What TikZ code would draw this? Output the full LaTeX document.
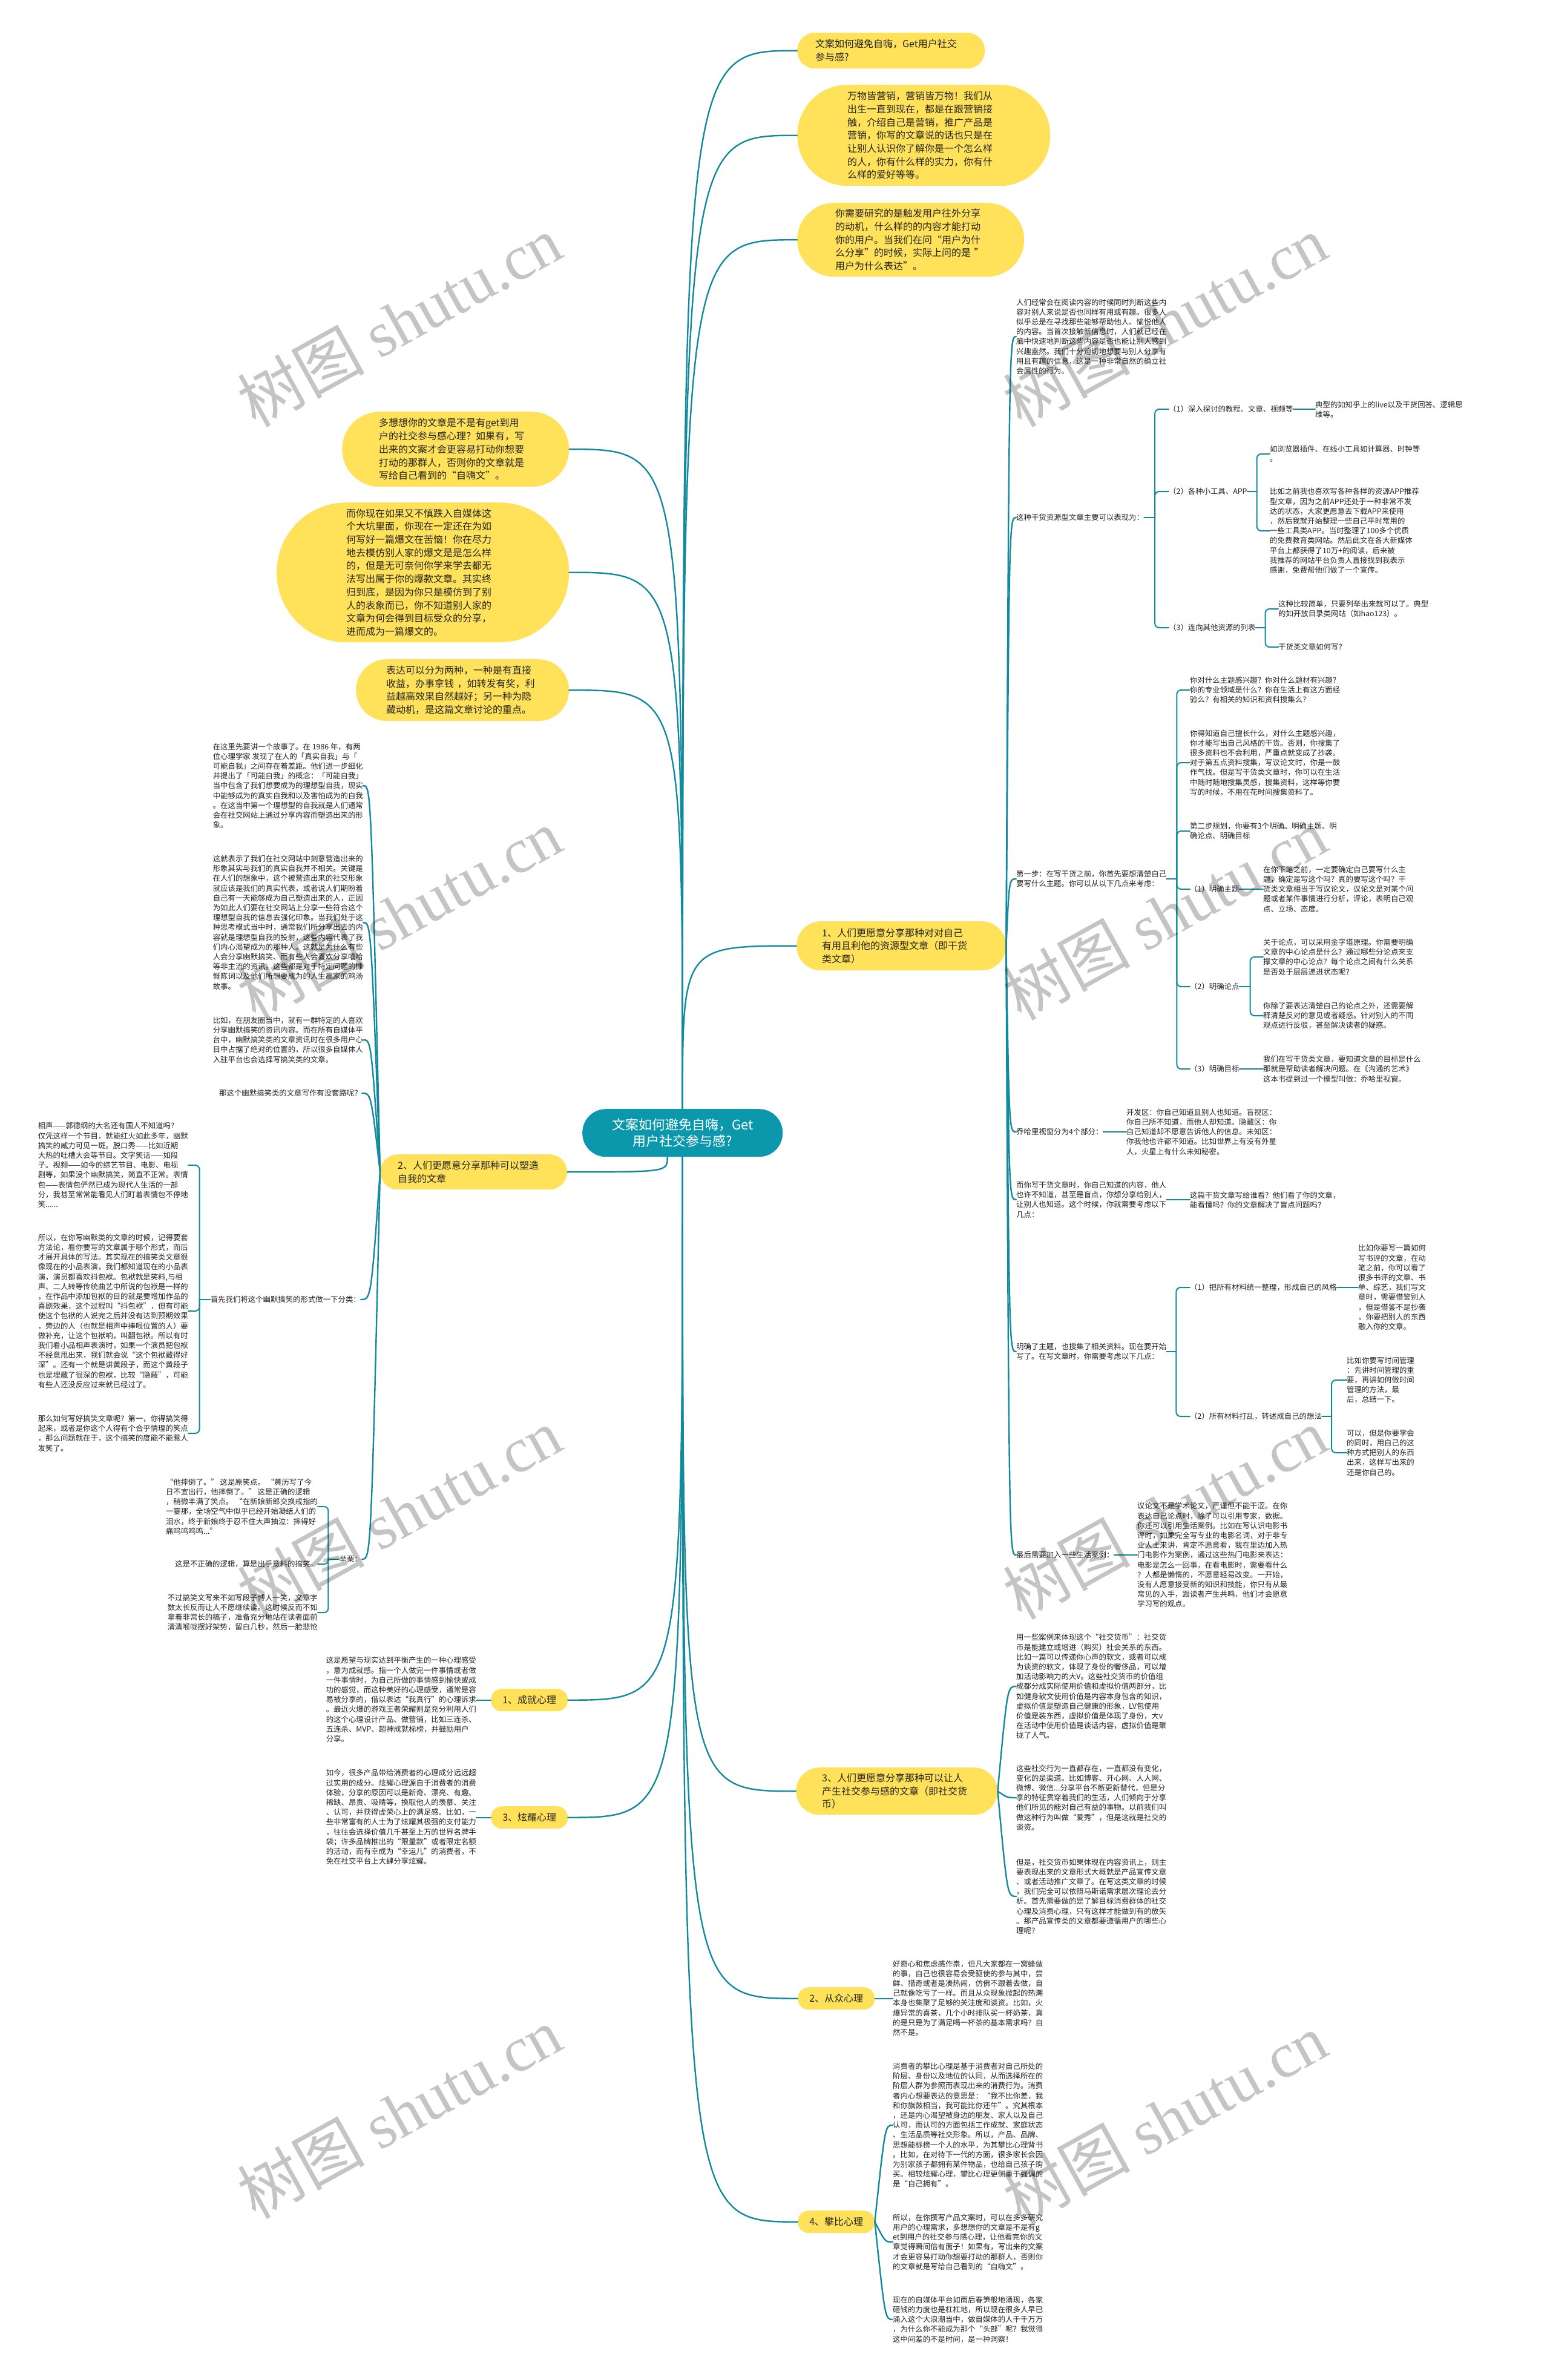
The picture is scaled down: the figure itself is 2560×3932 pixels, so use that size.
\documentclass[tikz,border=0pt]{standalone}
\usepackage{fontspec}
\setmainfont{Noto Sans CJK SC}
\newfontfamily\wmserif{Liberation Serif}
\usetikzlibrary{calc}
\definecolor{byel}{RGB}{255,226,89}
\definecolor{tealc}{RGB}{12,152,172}
\definecolor{lnc}{RGB}{18,138,158}
\definecolor{txt}{RGB}{34,34,34}
\newcommand\mmtxt{\fontsize{12.4}{16.2}\selectfont}
\newcommand\mmbub{\fontsize{16}{21.7}\selectfont}
\newcommand\mmcen{\fontsize{22}{27}\selectfont}
\newcommand\mmwm{\fontsize{105}{105}\selectfont}
\begin{document}
\begin{tikzpicture}[x=1pt,y=-1pt,
  tx/.style={inner sep=0pt, align=left, font=\mmtxt, text=txt},
  bub/.style={fill=byel, align=left, font=\mmbub, text=txt, inner ysep=0pt, anchor=north west},
  sbub/.style={fill=byel, align=center, font=\mmbub, text=txt, inner sep=0pt, anchor=north west, minimum width=127pt, minimum height=37pt, rounded corners=18pt},
  conn/.style={draw=lnc, line width=2.4pt, line cap=round},
  br/.style={draw=lnc, line width=2pt, line cap=round, rounded corners=7pt}]
\useasboundingbox (0,0) rectangle (2560,3932);
\fill[white] (0,0) rectangle (2560,3932);

% ---------- central ----------
\node[anchor=north west, fill=tealc, text=white, font=\mmcen, align=center, minimum width=331pt, minimum height=79pt, rounded corners=39pt, inner sep=0pt] (C) at (962,1832) {文案如何避免自嗨，Get\\用户社交参与感?};

% ---------- top right bubbles ----------
\node[bub, minimum height=59pt, inner xsep=30pt, text width=250pt, rounded corners=29pt] (A) at (1317,54) {文案如何避免自嗨，Get用户社交\\参与感?};
\node[bub, minimum height=167pt, inner xsep=83pt, text width=252pt, rounded corners=83pt] (B) at (1317,140) {万物皆营销，营销皆万物！我们从\\出生一直到现在，都是在跟营销接\\触，介绍自己是营销，推广产品是\\营销，你写的文章说的话也只是在\\让别人认识你了解你是一个怎么样\\的人，你有什么样的实力，你有什\\么样的爱好等等。};
\node[bub, minimum height=122pt, inner xsep=63pt, text width=249pt, rounded corners=61pt] (Cb) at (1317,335) {你需要研究的是触发用户往外分享\\的动机，什么样的的内容才能打动\\你的用户。当我们在问“用户为什\\么分享”的时候，实际上问的是 ”\\用户为什么表达”。};

% ---------- left bubbles ----------
\node[bub, minimum height=124pt, inner xsep=61pt, text width=253pt, rounded corners=62pt] (L1) at (565,680) {多想想你的文章是不是有get到用\\户的社交参与感心理？如果有，写\\出来的文案才会更容易打动你想要\\打动的那群人，否则你的文章就是\\写给自己看到的“自嗨文”。};
\node[bub, minimum height=231pt, inner xsep=115pt, text width=253pt, rounded corners=115pt] (L2) at (457,830) {而你现在如果又不慎跌入自媒体这\\个大坑里面，你现在一定还在为如\\何写好一篇爆文在苦恼！你在尽力\\地去模仿别人家的爆文是是怎么样\\的，但是无可奈何你学来学去都无\\法写出属于你的爆款文章。其实终\\归到底，是因为你只是模仿到了别\\人的表象而已，你不知道别人家的\\文章为何会得到目标受众的分享，\\进而成为一篇爆文的。};
\node[bub, minimum height=102pt, inner xsep=50pt, text width=252pt, rounded corners=51pt] (L3) at (588,1089) {表达可以分为两种，一种是有直接\\收益，办事拿钱 ，如转发有奖，利\\益越高效果自然越好；另一种为隐\\藏动机，是这篇文章讨论的重点。};

% ---------- main branches ----------
\node[bub, minimum height=81pt, inner xsep=42pt, text width=262pt, rounded corners=40pt] (N1) at (1316,1522) {1、人们更愿意分享那种对对自己\\有用且利他的资源型文章（即干货\\类文章）};
\node[bub, minimum height=58pt, inner xsep=29pt, text width=251pt, rounded corners=29pt] (N2) at (628,1907) {2、人们更愿意分享那种可以塑造\\自我的文章};
\node[bub, minimum height=78pt, inner xsep=43pt, text width=247pt, rounded corners=39pt] (N3) at (1315,2920) {3、人们更愿意分享那种可以让人\\产生社交参与感的文章（即社交货\\币）};
\node[sbub] (K1) at (811,2790) {1、成就心理};
\node[sbub] (K3) at (811,2984) {3、炫耀心理};
\node[sbub] (K2) at (1318,3283) {2、从众心理};
\node[sbub] (K4) at (1318,3652) {4、攀比心理};

% ---------- central connectors ----------
\coordinate (Cs2) at ([xshift=-25pt]C.south);
\foreach \t in {A,B,Cb,N1} \draw[conn] (C.north) .. controls (C.north |- \t.west) .. (\t.west);
\foreach \t in {L1,L2,L3} \draw[conn] (C.north) .. controls (C.north |- \t.east) .. (\t.east);
\foreach \t in {N3,K2,K4} \draw[conn] (C.south) .. controls (C.south |- \t.west) .. (\t.west);
\foreach \t in {K1,K3} \draw[conn] (C.south) .. controls (C.south |- \t.east) .. (\t.east);
\draw[conn] (Cs2) .. controls (Cs2 |- N2.east) .. (N2.east);

% ---------- branch 1 children ----------
\node[tx, anchor=west] (R1) at (1679,556) {人们经常会在阅读内容的时候同时判断这些内\\容对别人来说是否也同样有用或有趣。很多人\\似乎总是在寻找那些能够帮助他人、愉悦他人\\的内容。当首次接触新信息时，人们就已经在\\脑中快速地判断这些内容是否也能让别人感到\\兴趣盎然。我们十分迫切地想要与别人分享有\\用且有趣的信息，这是一种非常自然的确立社\\会属性的行为。};
\node[tx, anchor=west] (R2) at (1679,855) {这种干货资源型文章主要可以表现为：};
\node[tx, anchor=west] (R3) at (1679,1452) {第一步：在写干货之前，你首先要想清楚自己\\要写什么主题。你可以从以下几点来考虑：};
\node[tx, anchor=west] (R4) at (1679,1870) {乔哈里视窗分为4个部分：};
\node[tx, anchor=west] (R5) at (1679,1982) {而你写干货文章时，你自己知道的内容，他人\\也许不知道，甚至是盲点，你想分享给别人，\\让别人也知道。这个时候，你就需要考虑以下\\几点：};
\node[tx, anchor=west] (R6) at (1679,2233) {明确了主题，也搜集了相关资料。现在要开始\\写了。在写文章时，你需要考虑以下几点：};
\node[tx, anchor=west] (R7) at (1679,2569) {最后需要加入一些生活案例：};
\coordinate (N1s) at ([xshift=5pt]N1.east);
\foreach \t in {R1,R2,R3,R4,R5,R6,R7} \draw[conn] (N1.east) .. controls (N1s |- \t.west) .. (\t.west);

% R2 children
\node[tx, anchor=west] (R21) at (1931,676) {（1）深入探讨的教程、文章、视频等};
\node[tx, anchor=west] (R22) at (1931,812) {（2）各种小工具、APP};
\node[tx, anchor=west] (R23) at (1931,1037) {（3）连向其他资源的列表};
\draw[br] (R2.east) -- ++(18pt,0);
\foreach \t in {R21,R22,R23} \draw[br] ([xshift=18pt]R2.east) |- (\t.west);
\node[tx, anchor=west] (R211) at (2173,677) {典型的如知乎上的live以及干货回答、逻辑思\\维等。};
\draw[br] (R21.east) -- (R211.west |- R21.east);
\node[tx, anchor=west] (R221) at (2098,750) {如浏览器插件、在线小工具如计算器、时钟等\\。};
\node[tx, anchor=west] (R222) at (2098,877) {比如之前我也喜欢写各种各样的资源APP推荐\\型文章，因为之前APP还处于一种非常不发\\达的状态，大家更愿意去下载APP来使用\\，然后我就开始整理一些自己平时常用的\\一些工具类APP。当时整理了100多个优质\\的免费教育类网站。然后此文在各大新媒体\\平台上都获得了10万+的阅读，后来被\\我推荐的网站平台负责人直接找到我表示\\感谢，免费帮他们做了一个宣传。};
\draw[br] (R22.east) -- ++(16pt,0);
\foreach \t in {R221,R222} \draw[br] ([xshift=16pt]R22.east) |- (\t.west);
\node[tx, anchor=west] (R231) at (2112,1006) {这种比较简单，只要列举出来就可以了。典型\\的如开放目录类网站（如hao123）。};
\node[tx, anchor=west] (R232) at (2112,1069) {干货类文章如何写？};
\draw[br] (R23.east) -- ++(16pt,0);
\foreach \t in {R231,R232} \draw[br] ([xshift=16pt]R23.east) |- (\t.west);

% R3 children
\node[tx, anchor=west] (R31) at (1966,1140) {你对什么主题感兴趣？你对什么题材有兴趣？\\你的专业领域是什么？你在生活上有这方面经\\验么？有相关的知识和资料搜集么？};
\node[tx, anchor=west] (R32) at (1966,1260) {你得知道自己擅长什么，对什么主题感兴趣，\\你才能写出自己风格的干货。否则，你搜集了\\很多资料也不会利用，严重点就变成了抄袭。\\对于第五点资料搜集，写议论文时，你是一鼓\\作气找。但是写干货类文章时，你可以在生活\\中随时随地搜集灵感，搜集资料，这样等你要\\写的时候，不用在花时间搜集资料了。};
\node[tx, anchor=west] (R33) at (1966,1373) {第二步规划，你要有3个明确。明确主题、明\\确论点、明确目标};
\node[tx, anchor=west] (R34) at (1966,1469) {（1）明确主题};
\node[tx, anchor=west] (R35) at (1966,1630) {（2）明确论点};
\node[tx, anchor=west] (R36) at (1966,1766) {（3）明确目标};
\draw[br] (R3.east) -- ++(17pt,0);
\foreach \t in {R31,R32,R33,R34,R35,R36} \draw[br] ([xshift=17pt]R3.east) |- (\t.west);
\node[tx, anchor=west] (R341) at (2087,1469) {在你下笔之前，一定要确定自己要写什么主\\题，确定是写这个吗？真的要写这个吗？干\\货类文章相当于写议论文，议论文是对某个问\\题或者某件事情进行分析，评论，表明自己观\\点、立场、态度。};
\draw[br] (R34.east) -- (R341.west |- R34.east);
\node[tx, anchor=west] (R351) at (2087,1581) {关于论点，可以采用金字塔原理。你需要明确\\文章的中心论点是什么？通过哪些分论点来支\\撑文章的中心论点？每个论点之间有什么关系\\是否处于层层递进状态呢？};
\node[tx, anchor=west] (R352) at (2087,1678) {你除了要表达清楚自己的论点之外，还需要解\\释清楚反对的意见或者疑惑。针对别人的不同\\观点进行反驳，甚至解决读者的疑惑。};
\draw[br] (R35.east) -- ++(18pt,0);
\foreach \t in {R351,R352} \draw[br] ([xshift=18pt]R35.east) |- (\t.west);
\node[tx, anchor=west] (R361) at (2087,1766) {我们在写干货类文章，要知道文章的目标是什么\\那就是帮助读者解决问题。在《沟通的艺术》\\这本书提到过一个模型叫做：乔哈里视窗。};
\draw[br] (R36.east) -- (R361.west |- R36.east);

% R4, R5 children
\node[tx, anchor=west] (R41) at (1861,1870) {开发区：你自己知道且别人也知道。盲视区：\\你自己所不知道，而他人却知道。隐藏区：你\\自己知道却不愿意告诉他人的信息。未知区：\\你我他也许都不知道。比如世界上有没有外星\\人，火星上有什么未知秘密。};
\draw[br] (R4.east) -- (R41.west |- R4.east);
\node[tx, anchor=west] (R51) at (1966,1983) {这篇干货文章写给谁看？他们看了你的文章，\\能看懂吗？你的文章解决了盲点问题吗？};
\draw[br] (R5.east) -- (R51.west |- R5.east);

% R6 children
\node[tx, anchor=west] (R61) at (1966,2127) {（1）把所有材料统一整理，形成自己的风格};
\node[tx, anchor=west] (R62) at (1966,2340) {（2）所有材料打乱，转述成自己的想法};
\draw[br] (R6.east) -- ++(16pt,0);
\foreach \t in {R61,R62} \draw[br] ([xshift=16pt]R6.east) |- (\t.west);
\node[tx, anchor=west] (R611) at (2244,2127) {比如你要写一篇如何\\写书评的文章，在动\\笔之前，你可以看了\\很多书评的文章、书\\单、综艺，我们写文\\章时，需要借鉴别人\\，但是借鉴不是抄袭\\，你要把别人的东西\\融入你的文章。};
\draw[br] (R61.east) -- (R611.west |- R61.east);
\node[tx, anchor=west] (R621) at (2225,2280) {比如你要写时间管理\\：先讲时间管理的重\\要，再讲如何做时间\\管理的方法，最\\后，总结一下。};
\node[tx, anchor=west] (R622) at (2225,2400) {可以，但是你要学会\\的同时，用自己的这\\种方式把别人的东西\\出来，这样写出来的\\还是你自己的。};
\draw[br] (R62.east) -- ++(16pt,0);
\foreach \t in {R621,R622} \draw[br] ([xshift=16pt]R62.east) |- (\t.west);

% R7 child
\node[tx, anchor=west] (R71) at (1879,2569) {议论文不是学术论文，严谨但不能干涩。在你\\表达自己论点时，除了可以引用专家，数据。\\你还可以引用生活案例。比如在写认识电影书\\评时，如果完全写专业的电影名词，对于非专\\业人士来讲，肯定不愿意看，我在里边加入热\\门电影作为案例，通过这些热门电影来表达：\\电影是怎么一回事，在看电影时，需要看什么\\？人都是懒惰的，不愿意轻易改变。一开始，\\没有人愿意接受新的知识和技能，你只有从最\\常见的入手，跟读者产生共鸣，他们才会愿意\\学习写的观点。};
\draw[br] (R7.east) -- (R71.west |- R7.east);

% ---------- branch 3 children ----------
\node[tx, anchor=west] (S1) at (1679,2786) {用一些案例来体现这个“社交货币”：社交货\\币是能建立或增进（购买）社会关系的东西。\\比如一篇可以传递你心声的软文，或者可以成\\为谈资的软文，体现了身份的奢侈品，可以增\\加活动影响力的大V。这些社交货币的价值组\\成都分成实际使用价值和虚拟价值两部分，比\\如健身软文使用价值是内容本身包含的知识，\\虚拟价值是塑造自己健康的形象，LV包使用\\价值是装东西，虚拟价值是体现了身份，大v\\在活动中使用价值是谈话内容，虚拟价值是聚\\拢了人气。};
\node[tx, anchor=west] (S2) at (1679,2970) {这些社交行为一直都存在，一直都没有变化，\\变化的是渠道。比如博客、开心网、人人网、\\微博、微信...分享平台不断更新替代，但是分\\享的特征贯穿着我们的生活，人们倾向于分享\\他们所见的能对自己有益的事物。以前我们叫\\做这种行为叫做“爱秀”，但是这就是社交的\\谈资。};
\node[tx, anchor=west] (S3) at (1679,3133) {但是，社交货币如果体现在内容资讯上，则主\\要表现出来的文章形式大概就是产品宣传文章\\、或者活动推广文章了。在写这类文章的时候\\，我们完全可以依照马斯诺需求层次理论去分\\析。首先需要做的是了解目标消费群体的社交\\心理及消费心理，只有这样才能做到有的放矢\\。那产品宣传类的文章都要遵循用户的哪些心\\理呢？};
\coordinate (N3s) at ([xshift=16pt]N3.east);
\foreach \t in {S1,S2,S3} \draw[conn] (N3.east) .. controls (N3s |- \t.west) .. (\t.west);

% ---------- psychology children ----------
\node[tx, anchor=west] (K21) at (1475,3301) {好奇心和焦虑感作祟，但凡大家都在一窝蜂做\\的事，自己也很容易会受驱使的参与其中，尝\\鲜、猎奇或者是凑热闹，仿佛不跟着去做，自\\己就像吃亏了一样。而且从众现象掀起的热潮\\本身也集聚了足够的关注度和谈资。比如，火\\爆异常的喜茶，几个小时排队买一杯奶茶，真\\的是只是为了满足喝一杯茶的基本需求吗？自\\然不是。};
\draw[conn] (K2.east) -- (K21.west |- K2.east);
\node[tx, anchor=west] (K41) at (1475,3511) {消费者的攀比心理是基于消费者对自己所处的\\阶层、身份以及地位的认同，从而选择所在的\\阶层人群为参照而表现出来的消费行为。消费\\者内心想要表达的意思是：“我不比你差，我\\和你旗鼓相当，我可能比你还牛”。究其根本\\，还是内心渴望被身边的朋友、家人以及自己\\认可，而认可的方面包括工作成就、家庭状态\\、生活品质等社交形象。所以，产品、品牌、\\思想能标榜一个人的水平，为其攀比心理背书\\。比如，在对待下一代的方面，很多家长会因\\为别家孩子都拥有某件物品，也给自己孩子购\\买。相较炫耀心理，攀比心理更侧重于强调的\\是“自己拥有”。};
\node[tx, anchor=west] (K42) at (1475,3704) {所以，在你撰写产品文案时，可以在多多研究\\用户的心理需求，多想想你的文章是不是有g\\et到用户的社交参与感心理，让他看完你的文\\章觉得瞬间倍有面子！如果有，写出来的文案\\才会更容易打动你想要打动的那群人，否则你\\的文章就是写给自己看到的“自嗨文”。};
\node[tx, anchor=west] (K43) at (1475,3832) {现在的自媒体平台如雨后春笋般地涌现，各家\\砸钱的力度也是杠杠地，所以现在很多人早已\\涌入这个大浪潮当中，做自媒体的人千千万万\\，为什么你不能成为那个“头部”呢？我觉得\\这中间差的不是时间，是一种洞察！};
\coordinate (K4s) at ([xshift=17pt]K4.east);
\foreach \t in {K41,K42,K43} \draw[conn] (K4.east) .. controls (K4s |- \t.west) .. (\t.west);
\node[tx, anchor=east] (K11) at (787,2808) {这是愿望与现实达到平衡产生的一种心理感受\\，意为成就感。指一个人做完一件事情或者做\\一件事情时，为自己所做的事情感到愉快或成\\功的感觉，而这种美好的心理感受，通常是容\\易被分享的，借以表达“我真行”的心理诉求\\。最近火爆的游戏王者荣耀则是充分利用人们\\的这个心理设计产品、做营销，比如三连杀、\\五连杀、MVP、超神成就标榜，并鼓励用户\\分享。};
\draw[conn] (K1.west) -- (K11.east |- K1.west);
\node[tx, anchor=east] (K31) at (787,3002) {如今，很多产品带给消费者的心理成分远远超\\过实用的成分。炫耀心理源自于消费者的消费\\体验，分享的原因可以是新奇、漂亮、有趣、\\稀缺、昂贵、吸睛等，换取他人的羡慕、关注\\、认可，并获得虚荣心上的满足感。比如，一\\些非常富有的人士为了炫耀其极强的支付能力\\，往往会选择价值几千甚至上万的世界名牌手\\袋；许多品牌推出的“限量款”或者限定名额\\的活动，而有幸成为“幸运儿”的消费者，不\\免在社交平台上大肆分享炫耀。};
\draw[conn] (K3.west) -- (K31.east |- K3.west);

% ---------- branch 2 children ----------
\node[tx, anchor=east] (D1) at (600,1298) {在这里先要讲一个故事了。在 1986 年，有两\\位心理学家 发现了在人的「真实自我」与「\\可能自我」之间存在着差距。他们进一步细化\\并提出了「可能自我」的概念：「可能自我」\\当中包含了我们想要成为的理想型自我，现实\\中能够成为的真实自我和以及害怕成为的自我\\。在这当中第一个理想型的自我就是人们通常\\会在社交网站上通过分享内容而塑造出来的形\\象。};
\node[tx, anchor=east] (D2) at (600,1524) {这就表示了我们在社交网站中刻意营造出来的\\形象其实与我们的真实自我并不相关。关键是\\在人们的想象中，这个被营造出来的社交形象\\就应该是我们的真实代表，或者说人们期盼着\\自己有一天能够成为自己塑造出来的人，正因\\为如此人们要在社交网站上分享一些符合这个\\理想型自我的信息去强化印象。当我们处于这\\种思考模式当中时，通常我们所分享出去的内\\容就是理想型自我的投射，这些内容代表了我\\们内心渴望成为的那种人。这就是为什么有些\\人会分享幽默搞笑、而有些人会喜欢分享嘻哈\\等非主流的资讯。这些都是对于特定问题的慷\\慨陈词以及他们所想要成为的人生赢家的鸡汤\\故事。};
\node[tx, anchor=east] (D3) at (600,1718) {比如，在朋友圈当中，就有一群特定的人喜欢\\分享幽默搞笑的资讯内容。而在所有自媒体平\\台中，幽默搞笑类的文章资讯时在很多用户心\\目中占据了绝对的位置的，所以很多自媒体人\\入驻平台也会选择写搞笑类的文章。};
\node[tx, anchor=east] (D4) at (598,1806) {那这个幽默搞笑类的文章写作有没套路呢？};
\node[tx, anchor=east] (D5) at (596,2147) {首先我们将这个幽默搞笑的形式做一下分类：};
\node[tx, anchor=east] (D6) at (598,2576) {举栗：};
\coordinate (N2s) at ([xshift=-15pt]N2.west);
\foreach \t in {D1,D2,D3,D4,D5,D6} \draw[conn] (N2.west) .. controls (N2s |- \t.east) .. (\t.east);

\node[tx, anchor=east] (D51) at (311,1925) {相声——郭德纲的大名还有国人不知道吗？\\仅凭这样一个节目，就能红火如此多年，幽默\\搞笑的威力可见一斑。脱口秀——比如近期\\大热的吐槽大会等节目。文字笑话——如段\\子。视频——如今的综艺节目、电影、电视\\剧等，如果没个幽默搞笑，简直不正常。表情\\包——表情包俨然已成为现代人生活的一部\\分，我甚至常常能看见人们盯着表情包不停地\\笑......};
\node[tx, anchor=east] (D52) at (311,2166) {所以，在你写幽默类的文章的时候，记得要套\\方法论，看你要写的文章属于哪个形式，而后\\才展开具体的写法。其实现在的搞笑类文章很\\像现在的小品表演，我们都知道现在的小品表\\演，演员都喜欢抖包袱。包袱就是笑料,与相\\声、二人转等传统曲艺中所说的包袱是一样的\\，在作品中添加包袱的目的就是要增加作品的\\喜剧效果，这个过程叫“抖包袱”，但有可能\\使这个包袱的人说完之后并没有达到预期效果\\，旁边的人（也就是相声中捧哏位置的人）要\\做补充，让这个包袱响，叫翻包袱。所以有时\\我们看小品相声表演时，如果一个演员把包袱\\不经意甩出来，我们就会说“这个包袱藏得好\\深”。还有一个就是讲黄段子，而这个黄段子\\也是埋藏了很深的包袱，比较“隐蔽”，可能\\有些人还没反应过来就已经过了。};
\node[tx, anchor=east] (D53) at (311,2368) {那么如何写好搞笑文章呢？第一，你得搞笑得\\起来，或者是你这个人得有个合乎情理的笑点\\，那么问题就在于，这个搞笑的度能不能惹人\\发笑了。};
\draw[br] (D5.west) -- ++(-18pt,0);
\foreach \t in {D51,D52,D53} \draw[br] ([xshift=-18pt]D5.west) |- (\t.east);

\node[tx, anchor=east] (D61) at (525,2489) {“他摔倒了。” 这是原笑点。 “黄历写了今\\日不宜出行，他摔倒了。” 这是正确的逻辑\\，稍微丰满了笑点。 “在新娘新郎交换戒指的\\一霎那，全场空气中似乎已经开始凝结人们的\\泪水，终于新娘终于忍不住大声抽泣：摔得好\\痛呜呜呜呜...”};
\node[tx, anchor=east] (D62) at (525,2584) {这是不正确的逻辑，算是出乎意料的搞笑。};
\node[tx, anchor=east] (D63) at (525,2664) {不过搞笑文写来不如写段子博人一笑，文章字\\数太长反而让人不愿继续读。这时候反而不如\\拿着非常长的稿子，准备充分地站在读者面前\\清清喉咙摆好架势，留白几秒，然后一脸悲怆};
\draw[br] (D6.west) -- ++(-18pt,0);
\foreach \t in {D61,D62,D63} \draw[br] ([xshift=-18pt]D6.west) |- (\t.east);

% ---------- watermarks ----------
\foreach \wx/\wy [count=\i] in {660/530, 1925/530, 660/1510, 1925/1510, 660/2500, 1925/2500, 660/3490, 1925/3500}
  \node[rotate=29, text=black, opacity=0.23, font=\mmwm, inner sep=0pt] (wm\i) at (\wx,\wy) {树图 {\wmserif shutu.cn}};
\end{tikzpicture}
\end{document}
